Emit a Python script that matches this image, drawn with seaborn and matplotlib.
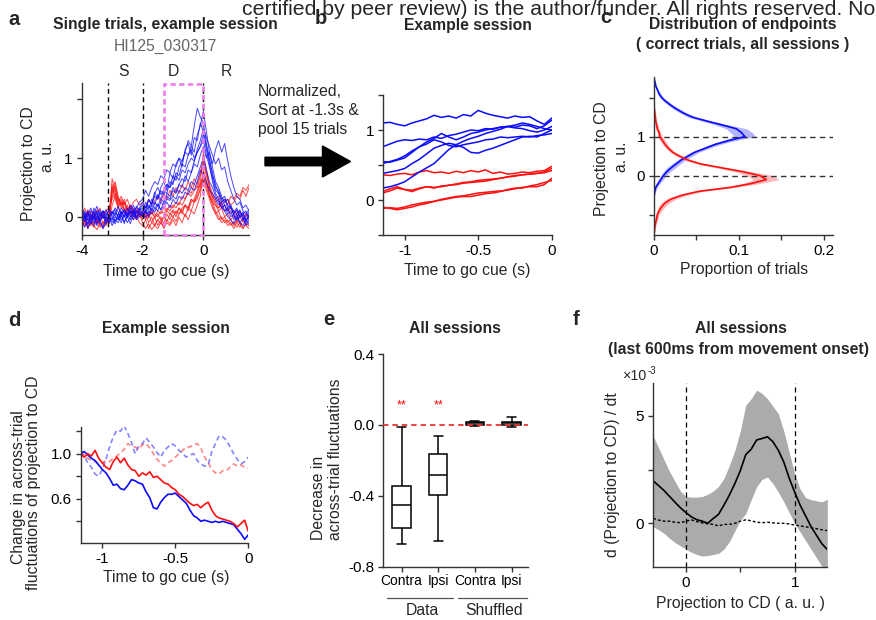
import numpy as np
import pandas as pd
import matplotlib
matplotlib.use("Agg")
import matplotlib.pyplot as plt
import seaborn as sns
from matplotlib.patches import Rectangle, FancyArrow
from matplotlib.lines import Line2D

sns.set_style("ticks")
plt.rcParams['font.family'] = ['Liberation Sans', 'DejaVu Sans']
plt.rcParams['axes.unicode_minus'] = False

# ---------------- data ----------------
# panel a: single trials (time grid -4 .. 1.5 s, 0.1 s)
a_time = np.linspace(-4.0, 1.5, 56)
a_contra_trials = [
    [0.05,-0.08,0.1,-0.05,0.02,-0.12,0.08,-0.03,0.0,-0.1, 0.05,0.12,-0.02,0.08,0.0,0.15,0.05,0.1,-0.02,0.12,
     0.2,0.1,0.28,0.22,0.35,0.3,0.45,0.38,0.55,0.5, 0.7,0.62,0.85,0.95,1.1,1.3,1.2,1.55,1.85,1.7,
     1.6,1.25,1.0,0.7,0.55,0.4,0.3,0.35,0.2,0.15, 0.1,0.05,0.12,-0.05,0.0,0.08],
    [-0.1,0.02,-0.15,0.05,-0.05,0.1,-0.08,0.03,-0.12,0.0, -0.05,0.08,0.0,-0.1,0.05,0.02,0.15,0.0,0.1,0.05,
     0.1,0.18,0.12,0.3,0.2,0.38,0.3,0.45,0.4,0.6, 0.55,0.75,0.7,0.9,0.85,1.05,1.2,1.1,1.4,1.55,
     1.8,1.45,1.1,0.85,0.6,0.5,0.35,0.25,0.3,0.15, 0.05,0.12,-0.02,0.05,-0.08,0.02],
    [0.12,0.0,0.08,-0.1,0.15,0.02,-0.05,0.1,0.05,-0.02, 0.1,0.02,0.18,0.05,0.12,-0.02,0.08,0.2,0.05,0.15,
     0.05,0.25,0.15,0.2,0.42,0.3,0.5,0.6,0.45,0.75, 0.65,0.9,1.0,0.85,1.15,1.25,1.05,1.35,1.3,1.6,
     1.45,1.2,0.95,0.75,0.5,0.45,0.3,0.2,0.1,0.18, 0.02,-0.05,0.1,0.0,-0.1,0.05],
    [-0.05,-0.18,-0.02,-0.12,0.0,-0.15,-0.05,-0.2,-0.1,-0.02, -0.15,-0.05,-0.1,0.02,-0.08,0.0,-0.12,0.05,-0.05,0.0,
     0.08,-0.02,0.1,0.05,0.15,0.22,0.12,0.25,0.35,0.3, 0.45,0.4,0.55,0.65,0.6,0.8,0.75,0.95,1.1,1.2,
     1.4,1.15,0.9,0.6,0.4,0.3,0.15,0.1,0.0,-0.05, -0.12,0.0,-0.1,-0.15,-0.05,-0.12],
    [0.0,0.1,-0.05,0.05,-0.1,0.0,0.12,-0.02,0.05,0.1, 0.02,-0.08,0.05,0.15,0.08,0.0,0.1,0.05,0.18,0.1,
     0.15,0.05,0.2,0.1,0.25,0.18,0.3,0.25,0.4,0.35, 0.5,0.42,0.55,0.5,0.7,0.6,0.75,0.9,0.85,1.05,
     1.2,1.0,1.1,0.9,1.15,1.3,1.1,1.25,0.95,0.7, 0.5,0.35,0.3,0.15,0.2,0.1],
    [-0.12,0.0,-0.2,-0.08,-0.15,0.02,-0.1,-0.18,0.0,-0.08, -0.02,-0.12,0.05,-0.05,0.02,-0.1,0.0,0.08,-0.02,0.05,
     0.0,0.12,0.05,0.2,0.15,0.1,0.25,0.2,0.3,0.28, 0.35,0.3,0.45,0.4,0.5,0.45,0.6,0.55,0.7,0.85,
     1.0,0.8,0.6,0.5,0.35,0.25,0.15,0.2,0.05,0.1, -0.05,0.05,-0.1,-0.02,-0.15,-0.05],
    [0.08,-0.05,0.05,0.15,0.0,0.08,-0.08,0.05,0.12,0.0, 0.08,0.0,-0.05,0.1,0.0,0.05,-0.05,0.12,0.0,0.08,
     0.02,0.1,0.0,0.15,0.08,0.2,0.12,0.18,0.25,0.15, 0.3,0.22,0.35,0.3,0.42,0.38,0.5,0.45,0.6,0.8,
     0.7,0.6,0.45,0.4,0.3,0.2,0.25,0.1,0.15,0.0, 0.05,-0.05,0.02,0.08,-0.05,0.0],
    [-0.08,0.05,-0.12,-0.02,0.08,-0.05,0.0,0.1,-0.08,0.02, -0.1,0.0,-0.05,0.05,-0.12,0.08,0.02,-0.05,0.1,0.15,
     0.25,0.15,0.3,0.22,0.4,0.5,0.38,0.45,0.55,0.5, 0.6,0.7,0.62,0.8,0.75,0.9,1.0,0.95,1.15,1.3,
     1.5,1.35,1.2,1.05,0.9,1.0,0.8,0.85,0.6,0.45, 0.3,0.2,0.25,0.1,0.05,0.12],
    [0.15,0.05,0.0,0.1,0.05,0.18,0.02,0.1,0.0,0.12, 0.05,0.15,0.08,0.0,0.12,0.05,0.2,0.12,0.15,0.25,
     0.3,0.45,0.35,0.5,0.6,0.55,0.7,0.65,0.8,0.75, 0.9,0.85,1.0,0.95,1.1,1.05,1.15,1.0,1.1,1.2,
     1.3,1.05,0.85,0.65,0.45,0.4,0.25,0.3,0.15,0.2, 0.08,0.15,0.0,0.05,0.1,-0.02],
]
a_ipsi_trials = [
    [0.0,-0.1,0.05,-0.05,0.1,-0.12,0.0,0.05,-0.08,0.0, 0.55,0.4,0.2,0.3,0.1,0.2,0.05,0.15,0.0,0.1,
     -0.05,0.05,-0.1,0.0,-0.15,-0.05,0.0,-0.12,0.05,-0.05, 0.1,0.0,0.15,0.05,0.2,0.1,0.25,0.3,0.45,0.6,
     1.1,0.8,0.5,0.3,0.2,0.1,0.15,0.0,0.05,-0.05, 0.02,-0.1,0.0,-0.08,0.05,-0.05],
    [-0.15,-0.05,-0.2,-0.1,-0.18,-0.05,-0.12,-0.2,-0.1,-0.05, 0.65,0.45,0.3,0.15,0.25,0.1,0.18,0.05,0.12,0.0,
     0.1,0.0,0.05,-0.1,0.0,-0.15,-0.05,-0.2,-0.1,-0.15, -0.05,-0.15,0.0,-0.1,0.05,-0.05,0.1,0.05,0.2,0.35,
     0.8,0.6,0.35,0.2,0.05,0.1,-0.05,0.0,-0.1,-0.05, -0.15,-0.05,-0.12,-0.2,-0.1,-0.15],
    [0.1,0.0,0.12,0.05,-0.05,0.08,0.15,0.0,0.1,0.05, 0.35,0.5,0.25,0.35,0.2,0.3,0.15,0.25,0.3,0.2,
     0.25,0.15,0.3,0.2,0.28,0.35,0.25,0.4,0.3,0.45, 0.35,0.5,0.4,0.55,0.45,0.6,0.5,0.65,0.55,0.75,
     0.95,0.75,0.55,0.4,0.3,0.35,0.2,0.25,0.3,0.2, 0.25,0.35,0.3,0.45,0.35,0.5],
    [-0.1,0.05,-0.05,-0.15,0.0,-0.08,0.05,-0.12,0.0,-0.1, 0.45,0.6,0.35,0.2,0.3,0.12,0.2,0.08,0.15,0.05,
     -0.1,-0.2,-0.12,-0.22,-0.15,-0.2,-0.1,-0.18,-0.05,-0.12, 0.0,-0.08,0.05,0.1,0.0,0.15,0.1,0.25,0.3,0.5,
     0.75,0.6,0.4,0.25,0.1,0.0,-0.1,-0.05,-0.15,-0.1, -0.2,-0.1,-0.18,-0.05,-0.15,-0.2],
    [0.05,0.15,0.0,0.1,0.02,0.12,0.05,-0.02,0.1,0.15, 0.3,0.4,0.2,0.25,0.15,0.05,0.1,0.0,0.05,0.12,
     0.05,0.1,-0.02,0.08,0.0,0.1,0.05,0.15,0.1,0.2, 0.15,0.25,0.2,0.35,0.3,0.45,0.4,0.55,0.5,0.7,
     0.9,0.7,0.5,0.35,0.25,0.15,0.2,0.1,0.15,0.05, 0.1,0.0,0.08,-0.02,0.05,0.0],
    [-0.05,-0.15,-0.1,0.0,-0.12,-0.02,-0.18,-0.08,-0.15,0.0, 0.5,0.3,0.15,0.25,0.05,0.15,0.0,0.1,-0.05,0.05,
     0.0,0.08,0.02,0.12,0.05,0.0,0.1,0.05,0.15,0.1, 0.2,0.15,0.25,0.2,0.3,0.4,0.35,0.45,0.5,0.55,
     0.65,0.55,0.45,0.35,0.25,0.3,0.15,0.2,0.1,0.15, 0.05,0.1,0.0,0.05,-0.05,0.02],
    [0.02,-0.08,0.08,-0.02,0.05,-0.1,0.0,0.08,-0.05,0.02, 0.4,0.55,0.3,0.2,0.25,0.1,0.15,0.05,0.1,0.0,
     0.05,-0.05,0.0,0.08,-0.02,0.05,-0.05,0.0,0.1,0.05, 0.12,0.05,0.15,0.1,0.2,0.15,0.3,0.25,0.4,0.55,
     0.7,0.5,0.35,0.25,0.2,0.15,0.25,0.3,0.2,0.35, 0.3,0.4,0.35,0.5,0.45,0.55],
    [-0.2,-0.1,-0.18,-0.05,-0.15,-0.22,-0.1,-0.15,-0.05,-0.12, 0.2,0.35,0.15,0.05,0.12,0.0,0.08,-0.05,0.02,-0.1,
     -0.15,-0.05,-0.2,-0.1,-0.15,-0.05,-0.12,0.0,-0.08,0.05, 0.0,0.1,0.05,0.15,0.2,0.15,0.3,0.25,0.35,0.45,
     0.6,0.45,0.3,0.15,0.05,-0.05,0.0,-0.1,-0.05,-0.15, -0.08,-0.18,-0.1,-0.2,-0.12,-0.15],
]
a_epochs = ["S", "D", "R"]

# panel b: normalized, sorted, pooled trials (time grid -1.15 .. 0 s)
b_time = np.linspace(-1.15, 0.0, 24)
b_contra_trials = [
    [1.10,1.11,1.08,1.06,1.10,1.13,1.16,1.21,1.18,1.20,1.17,1.22,1.20,1.28,1.24,1.21,1.19,1.17,1.20,1.18,1.19,1.13,1.08,1.17],
    [0.76,0.80,0.84,0.86,0.85,0.87,0.86,0.90,0.88,0.92,0.94,0.97,1.00,0.99,1.02,1.01,1.04,1.05,1.07,1.10,1.08,1.05,1.02,1.00],
    [0.52,0.55,0.58,0.63,0.70,0.76,0.83,0.88,0.95,0.90,0.86,0.90,0.95,0.97,1.00,1.02,1.04,1.05,1.03,1.02,0.99,0.97,1.00,1.05],
    [0.55,0.54,0.57,0.60,0.68,0.76,0.80,0.86,0.83,0.78,0.76,0.79,0.81,0.83,0.86,0.87,0.90,0.89,0.90,0.91,0.90,0.92,0.93,0.95],
    [0.38,0.40,0.42,0.45,0.52,0.58,0.66,0.74,0.78,0.81,0.79,0.75,0.68,0.67,0.71,0.74,0.78,0.82,0.86,0.90,0.91,0.90,0.95,1.00],
    [0.17,0.19,0.22,0.26,0.33,0.40,0.46,0.52,0.62,0.72,0.79,0.84,0.88,0.91,0.95,0.98,1.01,1.05,1.04,1.07,1.06,1.02,1.06,1.14],
]
b_ipsi_trials = [
    [0.36,0.35,0.37,0.38,0.36,0.40,0.42,0.39,0.40,0.38,0.41,0.39,0.42,0.40,0.43,0.38,0.40,0.37,0.38,0.40,0.39,0.41,0.42,0.48],
    [0.12,0.16,0.19,0.15,0.12,0.16,0.19,0.17,0.20,0.21,0.23,0.25,0.26,0.28,0.29,0.30,0.31,0.33,0.35,0.36,0.37,0.38,0.40,0.45],
    [0.10,0.13,0.17,0.15,0.14,0.17,0.19,0.18,0.19,0.21,0.22,0.24,0.25,0.26,0.27,0.29,0.31,0.33,0.34,0.36,0.37,0.38,0.39,0.42],
    [-0.10,-0.12,-0.14,-0.12,-0.10,-0.07,-0.05,-0.02,0.01,0.03,0.05,0.06,0.08,0.10,0.11,0.12,0.13,0.14,0.16,0.18,0.19,0.19,0.22,0.31],
    [-0.12,-0.11,-0.12,-0.10,-0.07,-0.05,-0.03,-0.02,0.0,0.02,0.04,0.05,0.05,0.07,0.09,0.10,0.12,0.15,0.17,0.17,0.20,0.22,0.25,0.28],
]

# panel c: distribution of endpoints (projection grid -1.5 .. 2.5)
c_proj = np.linspace(-1.5, 2.5, 41)
c_contra = [0,0,0,0,0,0,0,0,0,0, 0.0,0.001,0.002,0.005,0.008, 0.011,0.015,0.02,0.026,0.032,
            0.04,0.048,0.06,0.072,0.088, 0.107,0.103,0.097,0.08,0.062, 0.045,0.035,0.027,0.02,0.014,
            0.009,0.006,0.004,0.002,0.001,0.0]
c_contra_sem = [0,0,0,0,0,0,0,0,0,0, 0.001,0.001,0.002,0.002,0.003, 0.003,0.004,0.005,0.005,0.005,
                0.005,0.005,0.005,0.006,0.008, 0.012,0.013,0.012,0.008,0.006, 0.005,0.004,0.004,0.003,0.003,
                0.002,0.002,0.001,0.001,0.001,0]
c_ipsi = [0,0.0005,0.001,0.002,0.003, 0.004,0.006,0.009,0.013,0.02, 0.033,0.053,0.09,0.115,0.132,
          0.125,0.105,0.08,0.055,0.04, 0.03,0.022,0.017,0.013,0.01, 0.007,0.006,0.004,0.003,0.002,
          0.0015,0.001,0.0005,0,0, 0,0,0,0,0,0]
c_ipsi_sem = [0,0.001,0.001,0.001,0.002, 0.002,0.003,0.004,0.005,0.006, 0.006,0.006,0.007,0.01,0.015,
              0.015,0.01,0.006,0.005,0.004, 0.004,0.003,0.003,0.003,0.003, 0.003,0.002,0.002,0.002,0.001,
              0.001,0.001,0,0,0, 0,0,0,0,0,0]

# panel d: change in across-trial fluctuations
d_time = np.linspace(-1.15, 0.0, 47)
d_contra = [1.00,1.02,0.99,0.96,0.94,0.90,0.86,0.83,0.78,0.72,0.73,0.69,0.68,0.72,0.77,0.76,0.74,0.73,0.66,0.61,
            0.52,0.51,0.57,0.61,0.64,0.64,0.65,0.62,0.59,0.56,0.50,0.45,0.43,0.40,0.41,0.40,0.39,0.40,0.39,0.40,
            0.39,0.38,0.37,0.33,0.29,0.24,0.28]
d_ipsi = [1.00,0.97,1.00,0.98,1.03,0.96,0.92,0.88,0.86,0.93,0.97,0.92,0.96,0.90,0.86,0.85,0.80,0.83,0.81,0.84,
          0.79,0.80,0.77,0.74,0.73,0.70,0.68,0.64,0.62,0.59,0.56,0.54,0.55,0.52,0.55,0.57,0.50,0.45,0.43,0.42,
          0.41,0.40,0.38,0.35,0.38,0.41,0.31]
d_contra_shuffled = [1.02,0.98,0.92,0.88,0.82,0.80,0.86,0.95,1.06,1.15,1.21,1.20,1.25,1.18,1.10,1.00,1.07,1.09,1.14,1.10,
                     1.06,1.01,0.97,1.03,1.06,1.09,1.07,1.03,1.00,0.97,0.99,1.00,0.94,0.91,0.89,0.90,1.02,1.09,1.16,1.15,
                     1.12,1.06,1.00,0.95,0.91,0.93,0.97]
d_ipsi_shuffled = [1.02,0.99,0.96,0.94,0.93,0.91,0.92,0.94,0.93,0.96,0.98,1.01,1.04,1.09,1.07,1.06,1.04,1.08,1.09,1.05,
                   1.00,0.95,0.92,0.89,0.92,0.94,0.97,1.00,1.03,1.06,1.06,1.08,1.09,1.05,0.97,0.92,0.86,0.83,0.82,0.85,
                   0.85,0.88,0.91,0.89,0.90,0.88,0.87]

# panel e: box summaries (min, Q1, median, Q3, max)
e_categories = ["Data Contra", "Data Ipsi", "Shuffled Contra", "Shuffled Ipsi"]
e_tick_labels = ["Contra", "Ipsi", "Contra", "Ipsi"]
e_data_contra = [-0.67, -0.582, -0.45, -0.342, -0.01]
e_data_ipsi = [-0.654, -0.394, -0.282, -0.165, -0.062]
e_shuffled_contra = [-0.004, 0.002, 0.008, 0.015, 0.02]
e_shuffled_ipsi = [-0.01, -0.002, 0.01, 0.018, 0.044]
e_stars = ["**", "**", "", ""]

# panel f: d(projection)/dt vs projection (x1e-3)
f_proj = np.linspace(-0.3, 1.3, 33)
f_mean = [1.97,1.75,1.52,1.25,0.98,0.72,0.50,0.30,0.17,0.10, 0.00,0.22,0.42,0.85,1.32,1.85,2.45,3.20,3.45,3.88,
          3.95,4.03,3.80,3.40,2.85,2.10,1.45,0.85,0.35,-0.15, -0.55,-0.95,-1.22]
f_upper = [4.05,3.50,2.95,2.40,1.95,1.50,1.25,1.22,1.22,1.25, 1.35,1.50,1.72,2.10,2.70,3.40,4.30,5.50,5.80,6.20,
           6.05,5.80,5.45,5.10,4.30,3.30,2.30,1.60,1.20,1.10, 1.05,1.00,1.12]
f_lower = [-0.16,-0.30,-0.47,-0.70,-0.90,-1.05,-1.20,-1.35,-1.45,-1.52, -1.50,-1.45,-1.40,-1.20,-0.85,-0.35,0.15,0.45,1.10,1.70,
           2.05,2.15,1.85,1.45,1.00,0.50,0.00,-0.40,-0.80,-1.20, -1.60,-2.00,-2.40]
f_shuffled = [0.23,0.15,0.10,0.10,0.05,0.03,0.10,0.16,0.08,0.02, -0.02,-0.05,-0.12,-0.05,-0.05,0.00,0.10,0.16,0.12,0.05,
              0.03,0.05,0.02,0.00,0.00,-0.03,-0.08,-0.12,-0.16,-0.20, -0.25,-0.30,-0.34]

BLUE = "#0a0aff"
RED = "#ff1010"

# ---------------- figure ----------------
W, H = 876, 620
fig = plt.figure(figsize=(W / 100, H / 100), dpi=100)


def add_ax(l, t, r, b):
    ax = fig.add_axes([l / W, 1 - b / H, (r - l) / W, (b - t) / H])
    ax.patch.set_alpha(0)
    return ax


def txt(x, y, s, **kw):
    kw.setdefault("fontsize", 11.3)
    kw.setdefault("va", "baseline")
    kw.setdefault("ha", "center")
    fig.text(x / W, 1 - y / H, s, **kw)


def style(ax):
    sns.despine(ax=ax)
    for s in ["left", "bottom"]:
        ax.spines[s].set_color("#333333")
        ax.spines[s].set_linewidth(1.0)
    ax.tick_params(direction="out", length=3.5, width=1.0, color="#333333",
                   labelsize=11, pad=3.0, labelcolor="black")
    ax.set_xlabel("")
    ax.set_ylabel("")


def long_df(time, trials, cond):
    rows = []
    for k, tr in enumerate(trials):
        for t, v in zip(time, tr):
            rows.append((t, v, f"{cond}{k}", cond))
    return pd.DataFrame(rows, columns=["t", "v", "trial", "cond"])


# ---- panel a ----
ax = add_ax(81.7, 83, 249, 235)
dfa = pd.concat([long_df(a_time, a_ipsi_trials, "ipsi"), long_df(a_time, a_contra_trials, "contra")])
sns.lineplot(data=dfa, x="t", y="v", hue="cond", units="trial", estimator=None,
             hue_order=["ipsi", "contra"], palette={"ipsi": RED, "contra": BLUE},
             lw=0.7, alpha=0.75, legend=False, ax=ax)
for xv in (-3.15, -2.0, 0.0):
    ax.axvline(xv, color="black", lw=1.0, ls=(0, (3.5, 2.5)), zorder=4)
ax.add_patch(Rectangle((-1.3, -0.31), 1.3, 2.565, fill=False, ec="#ee7de9", lw=1.9,
                       ls=(0, (2.0, 1.3)), clip_on=False, zorder=5))
ax.set_xlim(-4, 1.5)
ax.set_ylim(-0.31, 2.28)
ax.set_xticks([-4, -2, 0])
ax.set_xticklabels(["-4", "-2", "0"])
ax.set_yticks([0, 1, 2])
ax.set_yticklabels(["0", "1", ""])
style(ax)

# ---- panel b ----
ax = add_ax(383.3, 95, 551.7, 235)
dfb = pd.concat([long_df(b_time, b_ipsi_trials, "ipsi"), long_df(b_time, b_contra_trials, "contra")])
sns.lineplot(data=dfb, x="t", y="v", hue="cond", units="trial", estimator=None,
             hue_order=["ipsi", "contra"], palette={"ipsi": RED, "contra": BLUE},
             lw=1.1, legend=False, ax=ax)
ax.set_xlim(-1.145, 0)
ax.set_ylim(-0.5, 1.5)
ax.set_xticks([-1, -0.5, 0])
ax.set_xticklabels(["-1", "-0.5", "0"])
ax.set_yticks([-0.5, 0, 0.5, 1, 1.5])
ax.set_yticklabels(["", "0", "", "1", ""])
style(ax)

# ---- panel c ----
ax = add_ax(654, 77.3, 833.3, 235)
cc = np.array(c_contra); cs = np.array(c_contra_sem)
ci = np.array(c_ipsi); cis = np.array(c_ipsi_sem)
ax.fill_betweenx(c_proj, cc - cs, cc + cs, color=BLUE, alpha=0.3, lw=0)
ax.fill_betweenx(c_proj, ci - cis, ci + cis, color=RED, alpha=0.3, lw=0)
for yv in (0, 1):
    ax.axhline(yv, color="#333333", lw=1.0, ls=(0, (4, 3)), zorder=1)
sns.lineplot(x=c_contra, y=c_proj, orient="y", estimator=None, color=BLUE, lw=1.2, ax=ax)
sns.lineplot(x=c_ipsi, y=c_proj, orient="y", estimator=None, color=RED, lw=1.2, ax=ax)
ax.set_xlim(0, 0.211)
ax.set_ylim(-1.52, 2.52)
ax.set_xticks([0, 0.05, 0.1, 0.15, 0.2])
ax.set_xticklabels(["0", "", "0.1", "", "0.2"])
ax.set_yticks([-1, 0, 1, 2])
ax.set_yticklabels(["", "0", "1", ""])
style(ax)

# ---- panel d ----
ax = add_ax(81, 426.7, 248.3, 542.7)
sns.lineplot(x=d_time, y=d_contra_shuffled, color=BLUE, lw=1.2, alpha=0.5, ls=(0, (3, 2)), ax=ax)
sns.lineplot(x=d_time, y=d_ipsi_shuffled, color=RED, lw=1.2, alpha=0.5, ls=(0, (3, 2)), ax=ax)
sns.lineplot(x=d_time, y=d_contra, color=BLUE, lw=1.2, ax=ax)
sns.lineplot(x=d_time, y=d_ipsi, color=RED, lw=1.2, ax=ax)
ax.set_xlim(-1.146, 0)
ax.set_ylim(0.21, 1.24)
ax.set_xticks([-1, -0.5, 0])
ax.set_xticklabels(["-1", "-0.5", "0"])
ax.set_yticks([0.4, 0.6, 0.8, 1.0, 1.2])
ax.set_yticklabels(["", "0.6", "", "1.0", ""])
style(ax)

# ---- panel e ----
ax = add_ax(383.3, 354, 528, 566.7)
e_values = [e_data_contra, e_data_ipsi, e_shuffled_contra, e_shuffled_ipsi]
dfe = pd.DataFrame([(c, v) for c, vals in zip(e_categories, e_values) for v in vals],
                   columns=["cat", "val"])
sns.boxplot(data=dfe, x="cat", y="val", order=e_categories, whis=(0, 100), width=0.5,
            color="white", linecolor="black", linewidth=1.1, showfliers=False, ax=ax)
ax.axhline(0, color="#ee3333", lw=1.3, ls=(0, (3, 2.2)), zorder=10)
for i, s in enumerate(e_stars):
    if s:
        ax.text(i, 0.107, s, color="red", ha="center", va="center", fontsize=9)
ax.set_xlim(-0.5, 3.45)
ax.set_ylim(-0.8, 0.4)
ax.set_yticks([0.4, 0.0, -0.4, -0.8])
ax.set_yticklabels(["0.4", "0.0", "-0.4", "-0.8"])
ax.set_xticks(range(4))
ax.set_xticklabels(e_tick_labels)
style(ax)
ax.tick_params(axis="x", labelsize=10, pad=2)

# ---- panel f ----
ax = add_ax(653.3, 383.3, 827.3, 566.7)
ax.fill_between(f_proj, f_lower, f_upper, color="#ababab", lw=0)
for xv in (0, 1):
    ax.axvline(xv, color="black", lw=0.9, ls=(0, (4, 3)), zorder=3)
sns.lineplot(x=f_proj, y=f_mean, color="black", lw=1.2, ax=ax)
sns.lineplot(x=f_proj, y=f_shuffled, color="black", lw=1.0, ls=(0, (2, 1.5)), ax=ax)
ax.set_xlim(-0.3, 1.3)
ax.set_ylim(-2.02, 6.52)
ax.set_xticks([0, 0.5, 1])
ax.set_xticklabels(["0", "", "1"])
ax.set_yticks([0, 2.5, 5])
ax.set_yticklabels(["0", "", "5"])
style(ax)

# ---------------- texts ----------------
txt(242, 15, "certified by peer review) is the author/funder. All rights reserved. No",
    ha="left", fontsize=15.3)
for lab, x, y in [("a", 8, 25), ("b", 315, 24), ("c", 600, 23), ("d", 8, 326), ("e", 323, 325), ("f", 573, 325)]:
    txt(x, y, lab, ha="left", fontsize=14.5, weight="bold")

txt(165, 29.5, "Single trials, example session", weight="bold")
txt(165, 50.7, "HI125_030317", color="#666666")
for lab, x in zip(a_epochs, [123.3, 173.3, 226.7]):
    txt(x, 76, lab)
txt(467.5, 30, "Example session", weight="bold")
txt(743, 29, "Distribution of endpoints", weight="bold")
txt(743, 49.3, "( correct trials, all sessions )", weight="bold")
txt(165.8, 333, "Example session", weight="bold")
txt(455, 333, "All sessions", weight="bold")
txt(740.8, 333, "All sessions", weight="bold")
txt(739, 354, "(last 600ms from movement onset)", weight="bold")

txt(258, 95.7, "Normalized,", ha="left")
txt(258, 115, "Sort at -1.3s &", ha="left")
txt(258, 134, "pool 15 trials", ha="left")
fig.patches.append(FancyArrow(265 / W, 1 - 161.5 / H, (350.5 - 265) / W, 0,
                              width=8.5 / H, head_width=31 / H, head_length=28 / W,
                              length_includes_head=True, color="black",
                              transform=fig.transFigure, figure=fig))

# axis labels
txt(165.8, 276, "Time to go cue (s)")
txt(467.5, 275.5, "Time to go cue (s)")
txt(743.8, 274, "Proportion of trials")
txt(165.8, 582, "Time to go cue (s)")
txt(740.8, 608, "Projection to CD ( a. u. )")

txt(28.5, 163.5, "Projection to CD", rotation=90, va="center")
txt(47.5, 156.5, "a. u.", rotation=90, va="center")
txt(601.7, 159, "Projection to CD", rotation=90, va="center")
txt(621.7, 156.7, "a. u.", rotation=90, va="center")
txt(18.3, 486.7, "Change in across-trial", rotation=90, va="center")
txt(33.3, 482.5, "fluctuations of projection to CD", rotation=90, va="center")
txt(318.3, 498.3, "Decrease in", rotation=90, va="center")
txt(335, 459.2, "across-trial fluctuations", rotation=90, va="center")
txt(613, 475, "d (Projection to CD) / dt", rotation=90, va="center")

txt(622, 380, "×10", ha="left", fontsize=10.3)
txt(648, 374.5, "-3", ha="left", fontsize=7)

# group labels panel e
for x0, x1 in [(386.7, 453.3), (458.3, 526.7)]:
    fig.add_artist(Line2D([x0 / W, x1 / W], [1 - 598.3 / H] * 2, color="#555555", lw=0.9))
txt(422.5, 615, "Data")
txt(494, 615, "Shuffled")

fig.savefig("out.png", dpi=100)
